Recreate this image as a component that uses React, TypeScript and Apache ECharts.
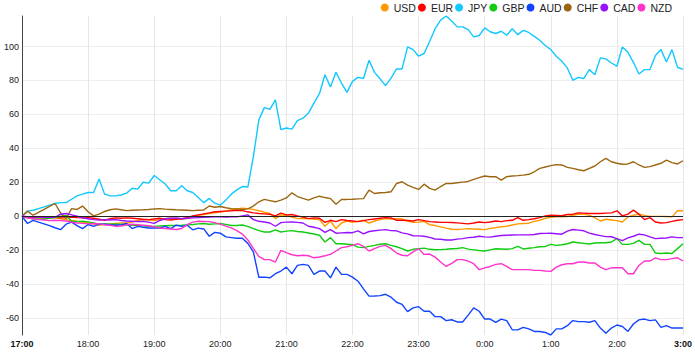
import React, { useEffect, useRef } from "react";
import * as echarts from "echarts";

// 5-minute steps from 17:00 to 3:00 (121 points)
const START_HOUR = 17;
const STEP_MIN = 5;
const POINTS = 121;
const times: string[] = Array.from({ length: POINTS }, (_, i) => {
  const m = i * STEP_MIN;
  const h = (START_HOUR + Math.floor(m / 60)) % 24;
  const mm = m % 60;
  return `${h}:${mm < 10 ? "0" + mm : mm}`;
});

const currencies = ["USD", "EUR", "JPY", "GBP", "AUD", "CHF", "CAD", "NZD"];
const colors = ["#ff9900", "#ff0000", "#11c8ff", "#11cc11", "#1144ff", "#9c6611", "#9911ff", "#ff33cc"];

const USD = [0,-1,-0.5,-1,-1.2,-0.8,-1,-1.5,-2,-2.5,-3,-3.4,-4,-4.5,-5.3,-4.8,-4.5,-4.2,-4,-4,-3.5,-2.5,-2,-2.2,-2.5,-2,-1.5,-1.2,-1.5,-1.8,-1.2,-0.5,0.5,1,1.5,2,2.5,3,3.8,4.3,4.8,4.5,4,3.2,2.4,1.6,-1.4,0.8,0.4,-0.5,-1.4,-1.2,-1.4,-1.8,-2,-5.9,-2.8,-7.3,-4,-2.8,-3.6,-3,-2.4,-4,-2.8,-2,-1.4,-1.6,-1.4,-1.6,-2.8,-3.6,-3.5,-3,-5,-5.5,-6.3,-7,-7.7,-7.8,-7.6,-7.3,-7.5,-7.7,-7.9,-7.2,-6.7,-6.2,-5.9,-5.2,-4.5,-4.3,-4.1,-3,-2.4,-1.2,-0.6,-0.4,-0.4,-0.2,0.6,1.2,1.2,0.5,-0.8,-2.8,-1.8,-2.2,-2.6,-3.4,-0.4,0.6,1.2,0.5,-0.1,-0.1,-0.1,-0.2,-0.4,3.2,3.2];
const EUR = [0,-0.5,-0.3,-0.6,-0.8,-0.5,-0.7,-1,-0.8,-0.5,-0.8,-1,-0.8,-1.2,-1.8,-2.4,-1.5,-1,-1.2,-1,-1.2,-1.5,-1.8,-2,-1.6,-1.2,-2,-2.2,-1.8,-1.4,-0.8,0.2,0.8,1.4,2,2.6,2.8,3,3.2,3.5,3.3,2.6,2,1.6,1.4,1.2,0.2,1.8,0.8,1,0.2,-0.5,-1.4,-1,-1.2,-3.6,-2.4,-3.2,-2,-2.5,-2.8,-3.2,-2.6,-2,-1.6,-1.2,-0.8,-1,-2.4,-2.4,-2.5,-2.8,-2,-2.6,-3.2,-3.4,-3.6,-3.6,-3.7,-3.9,-4.2,-4.5,-4,-3.4,-3.8,-3.4,-2.8,-3.2,-2.6,-2.4,-0.8,-2.4,-2,-1.5,-0.8,0.2,0.6,0.5,0.3,1,1.2,2,1.8,1.6,1.6,1.6,1.8,2,3.2,0.2,1.2,3.6,1.2,-2,-0.8,-3.4,-4,-3.8,-3,-2.4,-2];
const JPY = [0,3,3.5,4.5,5.5,6.5,7.5,8,8,10,12,13,14,14,22,13,12,12,12.5,13.6,16.5,16,20,19.5,24,21.5,19,15,15,18,15,14,11,8,10.5,7.7,6.5,9.5,13,15.5,17.5,17.2,35,56.8,64,63,68.6,51,52,51.3,56.3,57.8,60.8,66.7,72.2,83.4,76.2,84.8,78.5,73,79.5,81.8,81.2,91.9,84.8,81,77,81.4,86.8,86.8,99.8,98.2,94.3,95.9,103,110.5,115.6,118,115,111.6,111.6,110,105.7,106.5,111,108.7,107.7,109,106.7,110.5,107,109.5,108.3,106,103.7,100.6,98.2,94.3,91.3,87.4,80.1,81.8,81.2,86.4,83.4,93.3,92.7,90.3,88.4,99.8,96.6,90.7,83.8,86.4,86.4,94.7,98.2,90.9,98.2,87.8,86.5];
const GBP = [0,-1,-1.5,-1.8,-1.6,-1.2,-0.8,0,0.5,-3,-3.2,-3,-3.3,-4,-4.7,-4.5,-4.7,-4.6,-4.8,-5,-5.3,-5.5,-5.7,-5.9,-6,-5.8,-5.6,-5.5,-5.4,-5.3,-5.1,-4.9,-4.5,-4.3,-4.7,-4.5,-4.3,-4.8,-5.5,-5.5,-5.2,-6,-7.3,-8.5,-9.3,-9.3,-8,-9.3,-8.8,-8.5,-9,-9.3,-9.9,-10.5,-11.2,-15.2,-12.6,-16.2,-16.2,-16.5,-16.8,-18.2,-18.5,-17.8,-17.2,-16.5,-16.2,-17.2,-18,-19.1,-20.5,-19.5,-19.1,-18.8,-19.5,-19.8,-19.7,-19.5,-19.2,-19,-18.5,-19.4,-19.8,-20.2,-20.5,-19.8,-19.2,-19.3,-19.5,-19.1,-17.8,-19.3,-18.9,-18.5,-18,-17.8,-16.6,-17.2,-16.8,-16.2,-15.2,-15.6,-16,-16.4,-15.8,-15.6,-15.6,-15.2,-13.2,-16.6,-16.6,-16,-14.2,-16.6,-16.6,-21.7,-22,-21.7,-22,-19.1,-16.2];
const AUD = [0,-4.3,-2.4,-3.5,-4.5,-5.5,-6.8,-7.9,-4.7,-3.5,-5.5,-7.3,-4.9,-6,-4.7,-4.7,-5,-5.3,-5,-4.3,-7.3,-6,-6.5,-6.9,-6.9,-6.9,-6,-7.3,-5.3,-6,-5.3,-8,-7,-7.5,-11.8,-9.5,-10,-12.2,-12.6,-13,-13,-16,-21,-36,-35.9,-36.3,-33.9,-32.3,-30,-33.9,-29,-28.4,-29,-34.3,-32.3,-32.3,-36.3,-30,-34.3,-34.3,-35.9,-38.3,-42.8,-47.1,-47,-46.8,-46,-47.7,-50.7,-52,-56.2,-54,-53.3,-56,-56,-59.2,-59.2,-61.5,-61,-62.3,-62.3,-58.3,-54,-56,-60.6,-60.6,-62.5,-60.6,-61.5,-66.9,-67,-65.5,-66.4,-67.9,-67.9,-68.5,-70,-66.4,-66.4,-64.5,-61.5,-62.1,-62.1,-62.5,-61.5,-65.9,-69,-65.9,-64.1,-65,-67.9,-63.5,-61.1,-60.6,-61.5,-61.1,-65.5,-64.5,-65.9,-65.9,-65.9];
const CHF = [0,3,0.6,2.3,4,5.8,7.5,2,-1.4,4.5,4,6,2.6,0.2,1.2,2.8,3.8,4.3,3.8,3.3,3.5,3.7,3.8,4,4.3,4.5,4.2,4,3.8,3.7,3.5,3.3,3.5,3.7,6,5.3,5.7,5,4.5,4.3,4,4.3,6,8.5,9.9,9.2,8.5,9.5,10.8,13.8,11.6,10.5,9.5,10.8,11.8,11,10.4,7.1,9.9,9.9,10,10.2,10.4,15.4,13.4,13.8,14,14.4,19.3,20.3,18.3,17,15.8,18.9,16.4,15.4,17.5,19.3,19.3,19.7,20.1,20.5,21.7,22.7,23.7,23.3,23.3,21.3,23.3,23.7,23.9,24.2,24.7,26.2,28.2,29,29.8,30.4,30.2,28.8,28.2,27.4,26.8,28.2,29.6,32.1,34.1,32.1,31.2,30.6,30.8,32.1,30.2,28.8,29.2,30.2,31.2,33.1,31.6,30.8,32.7];
const CAD = [0,-0.3,-0.5,-0.5,-0.6,-0.5,-0.6,1.2,1.6,0.8,0,-1,-1.5,-2,-2.3,-2,-2.2,-2,-2.5,-2.8,-3,-3.2,-3,-3.5,-4.2,-2.5,-1.5,-1.2,-1,-1.5,-1.2,-1,-0.8,-0.6,-0.5,-0.4,-0.3,-0.5,-0.4,-0.4,0.2,0.8,-2,-3,-3.4,-4,-5.9,-3.8,-3.5,-3.4,-3.6,-4,-5.9,-6.5,-7.3,-9.5,-7.9,-10,-9.8,-9.6,-9.7,-8.6,-10.4,-9,-8.6,-8.2,-7.9,-8.5,-8.6,-9.8,-10.4,-11.5,-11.6,-11.8,-12.5,-13.4,-13.6,-14,-14,-13.5,-13.2,-12.6,-12.4,-11.8,-12.2,-12.3,-11.8,-11.4,-11.2,-11.1,-11,-11,-11,-10.8,-10.2,-10.1,-10,-10.3,-10.6,-8.8,-7.8,-8.2,-8.6,-10,-10.8,-11.4,-12,-12.1,-13.2,-14.4,-12.8,-11.8,-10.6,-11,-12.2,-13.2,-13,-12.8,-12.2,-12.6,-12.6];
const NZD = [0,-1,-1.5,-2,-2.2,-2.6,-2.4,-2.6,-2.8,-3.5,-4,-4.2,-4.5,-4.3,-4.5,-5,-5.3,-6,-5.8,-5,-4.7,-5,-5.3,-5.6,-6.2,-6.9,-7.2,-7.5,-7.8,-7.2,-5,-3.5,-3,-3.1,-3.2,-3.8,-4.7,-5.8,-6.9,-8.5,-10.5,-14,-19,-23.7,-25.6,-25.6,-27,-20.1,-21.5,-22.7,-23.3,-23,-23.3,-24.5,-24,-23.3,-22.5,-20.5,-18.5,-18,-17.2,-16.2,-17.8,-20.5,-19.1,-17.8,-17.2,-19.1,-21.7,-23,-23.3,-21,-19.1,-22.5,-22.3,-24.1,-27,-29.6,-27.8,-25.6,-25.6,-26.5,-28,-31.5,-30.4,-29.6,-28.4,-28,-29.6,-31.5,-31.5,-31.5,-31.5,-31.9,-31.9,-32.3,-32.5,-30,-28.6,-28,-28,-27,-27,-27.6,-27.6,-30,-31.5,-30.4,-30.4,-30.4,-33.9,-33.9,-29,-26.4,-26.4,-24.5,-25.6,-25.6,-25,-24.5,-26.4];

const seriesData = [USD, EUR, JPY, GBP, AUD, CHF, CAD, NZD];

const FONT = "'Liberation Sans', Arial, sans-serif";

export default function App() {
  const ref = useRef<HTMLDivElement>(null);
  useEffect(() => {
    if (!ref.current) return;
    const chart = echarts.init(ref.current, null, { renderer: "svg" });
    const series: any[] = currencies.map((name, k) => ({
      name,
      type: "line",
      data: seriesData[k],
      showSymbol: false,
      symbol: "none",
      lineStyle: { width: 1.4, color: colors[k] },
      itemStyle: { color: colors[k] },
      z: 3,
    }));
    series.push({
      name: "zero",
      type: "line",
      data: [],
      silent: true,
      z: 2,
      markLine: {
        silent: true,
        symbol: "none",
        label: { show: false },
        lineStyle: { color: "#222", width: 1, type: "solid" },
        data: [{ yAxis: 0 }],
      },
    });
    chart.setOption({
      animation: false,
      textStyle: { fontFamily: FONT },
      legend: {
        data: currencies,
        top: 2,
        right: 23,
        padding: 0,
        icon: "circle",
        itemWidth: 8,
        itemHeight: 8,
        itemGap: 2,
        textStyle: { fontSize: 10.5, color: "#222", fontFamily: FONT },
      },
      grid: { left: 22, right: 9, top: 16, bottom: 22, containLabel: false },
      xAxis: {
        type: "category",
        data: times,
        boundaryGap: false,
        axisLine: { show: false },
        axisTick: { show: false },
        splitLine: { show: true, interval: 11, lineStyle: { color: "#e6e6e6", width: 1 } },
        axisLabel: {
          interval: 11,
          margin: 4,
          fontSize: 9,
          color: "#222",
          fontFamily: FONT,
          formatter: (v: string, idx: number) =>
            idx === 0 || idx === POINTS - 1 ? `{b|${v}}` : v,
          rich: { b: { fontWeight: "bold", fontSize: 9, color: "#111", fontFamily: FONT } },
        },
      },
      yAxis: {
        type: "value",
        min: "dataMin",
        max: "dataMax",
        splitNumber: 9,
        axisLine: { show: true, lineStyle: { color: "#444", width: 1 } },
        axisTick: { show: false },
        splitLine: { show: true, showMinLine: false, showMaxLine: false, lineStyle: { color: "#eeeeee", width: 1 } },
        axisLabel: {
          margin: 3,
          fontSize: 9,
          color: "#222",
          fontFamily: FONT,
          showMinLabel: false,
          showMaxLabel: false,
        },
      },
      series,
    });
    return () => chart.dispose();
  }, []);
  return <div ref={ref} style={{ width: 695, height: 357, position: "absolute", left: 0, top: 0 }} />;
}
